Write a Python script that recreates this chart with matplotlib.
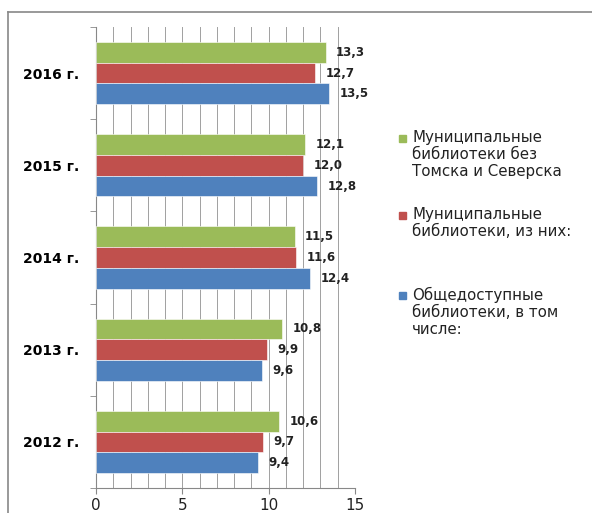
import matplotlib.pyplot as plt
from matplotlib.lines import Line2D
from matplotlib.patches import Rectangle
import numpy as np

years = ["2012 г.", "2013 г.", "2014 г.", "2015 г.", "2016 г."]
public_libs = [9.4, 9.6, 12.4, 12.8, 13.5]
municipal = [9.7, 9.9, 11.6, 12.0, 12.7]
municipal_no_tomsk = [10.6, 10.8, 11.5, 12.1, 13.3]

series_labels = [
    "Муниципальные\nбиблиотеки без\nТомска и Северска",
    "Муниципальные\nбиблиотеки, из них:",
    "Общедоступные\nбиблиотеки, в том\nчисле:",
]
colors = ["#9BBB59", "#C0504D", "#4F81BD"]

plt.rcParams["font.family"] = ["DejaVu Sans"]

fig = plt.figure(figsize=(5.92, 5.13), dpi=100)
ax = fig.add_axes([96 / 592, 1 - 488 / 513, (355 - 96) / 592, (488 - 27) / 513])

y = np.arange(len(years))
h = 0.225
series = [municipal_no_tomsk, municipal, public_libs]
offsets = [h, 0, -h]
for vals, col, off in zip(series, colors, offsets):
    bars = ax.barh(y + off, vals, height=h, color=col, edgecolor="white", linewidth=0.4, zorder=3)
    for b, v in zip(bars, vals):
        ax.text(b.get_width() + 0.6, b.get_y() + b.get_height() / 2,
                f"{v:.1f}".replace(".", ","), va="center", ha="left",
                fontsize=8.5, fontweight="bold", color="#222222")

ax.set_xlim(0, 15)
ax.set_ylim(-0.5, len(years) - 0.5)
ax.set_xticks([0, 5, 10, 15])
ax.set_xticks(np.arange(0, 16, 1), minor=True)
ax.grid(axis="x", which="both", color="#a0a0a0", linewidth=0.7, zorder=0)
ax.set_yticks(y)
ax.set_yticklabels(years, fontsize=10, fontweight="bold")
ax.set_yticks(np.arange(-0.5, len(years), 1), minor=True)
ax.tick_params(axis="y", which="major", length=0, pad=12)
ax.tick_params(axis="y", which="minor", length=4, color="#888888")
ax.tick_params(axis="x", which="major", length=4, color="#888888", labelsize=11, colors="#222222")
ax.tick_params(axis="x", which="minor", length=0)
for s in ["top", "right"]:
    ax.spines[s].set_visible(False)
for s in ["left", "bottom"]:
    ax.spines[s].set_color("#888888")
    ax.spines[s].set_linewidth(0.8)

# legend drawn to the right, handle aligned with first line
legend_tops = [138, 215, 295]
for lab, col, ty in zip(series_labels, colors, legend_tops):
    fig.patches.append(Rectangle((399 / 592, 1 - (ty + 4) / 513), 7 / 592, 7 / 513,
                                 transform=fig.transFigure, color=col))
    fig.text(412 / 592, 1 - (ty - 8) / 513, lab, fontsize=10.8, va="top", ha="left",
             color="#222222", linespacing=1.15)

# outer frame
fig.add_artist(Line2D([8 / 592, 1], [1 - 12 / 513, 1 - 12 / 513], transform=fig.transFigure,
                      color="#888888", linewidth=1.2))
fig.add_artist(Line2D([8 / 592, 8 / 592], [0, 1 - 12 / 513], transform=fig.transFigure,
                      color="#888888", linewidth=1.2))

fig.savefig("out.png", dpi=100)
